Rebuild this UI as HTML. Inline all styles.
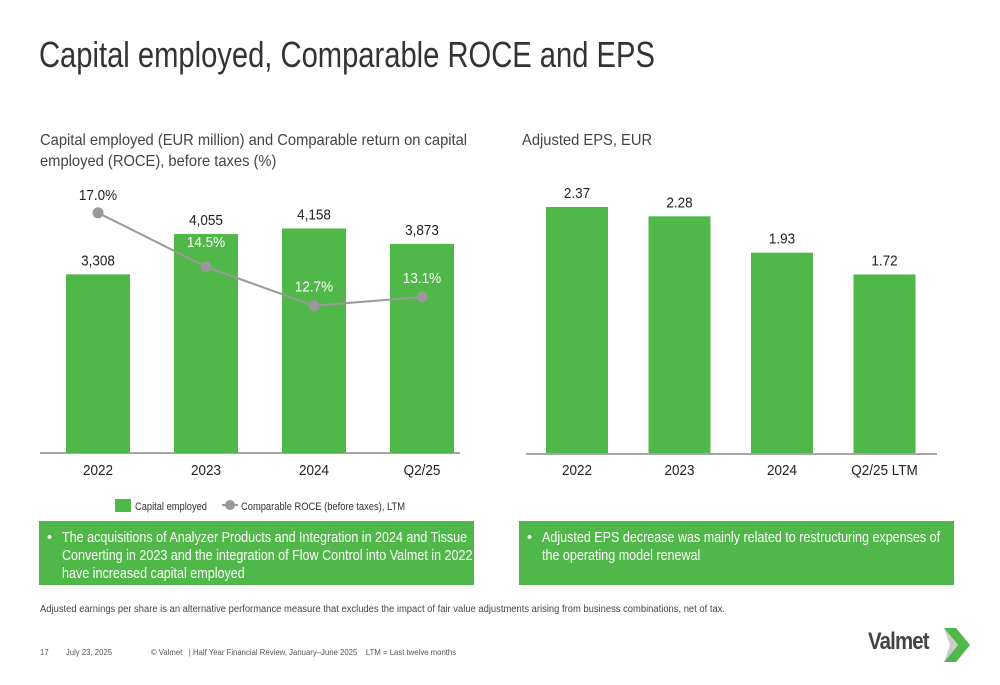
<!DOCTYPE html>
<html><head><meta charset="utf-8"><style>
body{margin:0;width:1000px;height:685px;background:#fff;font-family:"Liberation Sans",sans-serif;position:relative;overflow:hidden;color:#262626}
.a{position:absolute;white-space:nowrap}
.sx{transform-origin:left top}
.box{position:absolute;background:#50b848;color:#fff;font-size:14.5px;line-height:18px;box-sizing:border-box;overflow:hidden}
.box .b{position:absolute;left:8px;top:8px}
.box .t{position:absolute;left:23px;top:8px;transform:scaleX(0.865);transform-origin:left top;white-space:nowrap}
</style></head><body>
<div class="a sx" style="left:39px;top:34px;font-size:36px;color:#333;transform:scaleX(0.81)">Capital employed, Comparable ROCE and EPS</div>
<div class="a sx" style="left:40px;top:130px;font-size:16px;line-height:21px;color:#444;transform:scaleX(0.92)">Capital employed (EUR million) and Comparable return on capital<br>employed (ROCE), before taxes (%)</div>
<div class="a sx" style="left:522px;top:132px;font-size:16px;color:#444;transform:scaleX(0.92)">Adjusted EPS, EUR</div>
<svg class="a" style="left:0;top:0" width="1000" height="520" font-family="Liberation Sans, sans-serif">
<g id="left"></g><g id="right"></g>
<g>
<rect x="115" y="499" width="16" height="13" fill="#50b848"/>
<text x="135" y="510" font-size="11" fill="#333" textLength="72" lengthAdjust="spacingAndGlyphs">Capital employed</text>
<line x1="222" y1="505" x2="238" y2="505" stroke="#999" stroke-width="2"/><circle cx="230" cy="505" r="5" fill="#999"/>
<text x="241" y="510" font-size="11" fill="#333" textLength="164" lengthAdjust="spacingAndGlyphs">Comparable ROCE (before taxes), LTM</text>
</g>
</svg>
<div class="box" style="left:39px;top:521px;width:435px;height:64px"><span class="b">•</span><span class="t">The acquisitions of Analyzer Products and Integration in 2024 and Tissue<br>Converting in 2023 and the integration of Flow Control into Valmet in 2022<br>have increased capital employed</span></div>
<div class="box" style="left:519px;top:521px;width:435px;height:64px"><span class="b">•</span><span class="t">Adjusted EPS decrease was mainly related to restructuring expenses of<br>the operating model renewal</span></div>
<div class="a sx" style="left:40px;top:604px;font-size:10px;color:#444;transform:scaleX(0.94)">Adjusted earnings per share is an alternative performance measure that excludes the impact of fair value adjustments arising from business combinations, net of tax.</div>
<div class="a sx" style="left:40px;top:648px;font-size:8px;color:#555;white-space:pre;transform:scaleX(0.97)">17        July 23, 2025                  © Valmet   | Half Year Financial Review, January–June 2025    LTM = Last twelve months</div>
<div class="a sx" style="left:868px;top:628px;font-size:24px;font-weight:bold;color:#444;letter-spacing:-1px;transform:scaleX(0.85)">Valmet</div>
<svg class="a" style="left:942px;top:628px" width="30" height="34"><polygon points="2,0 14,0 28,17 14,34 2,34 16,17" fill="#50b848"/><polygon points="2,0 16,17 2,34 8,17" fill="#ccc"/></svg>
<script>
const cats=["2022","2023","2024","Q2/25"];
const capEmp=[3308,4055,4158,3873];
const capLbl=["3,308","4,055","4,158","3,873"];
const roce=[17.0,14.5,12.7,13.1];
const roceLbl=["17.0%","14.5%","12.7%","13.1%"];
const epsCats=["2022","2023","2024","Q2/25 LTM"];
const eps=[2.37,2.28,1.93,1.72];
const epsLbl=["2.37","2.28","1.93","1.72"];
const NS="http://www.w3.org/2000/svg";
function mk(p,t,at,txt){const e=document.createElementNS(NS,t);for(const k in at)e.setAttribute(k,at[k]);if(txt!=null)e.textContent=txt;p.appendChild(e);return e;}
function tx(p,x,y,s,fill){const e=mk(p,'text',{x:x,y:y,'font-size':15,'text-anchor':'middle',fill:fill,transform:'translate('+x+' 0) scale(0.9 1) translate('+(-x)+' 0)'},s);return e;}
const L=document.getElementById('left');
const base=453;
const xL=i=>98+i*108;
const yCap=v=>base-v*0.054;
const yR=v=>580-v*21.6;
mk(L,'line',{x1:40,y1:base,x2:460,y2:base,stroke:'#888','stroke-width':1.5});
cats.forEach((c,i)=>{
 const r=mk(L,'rect',{x:xL(i)-32,y:yCap(capEmp[i]),width:64,height:base-yCap(capEmp[i]),fill:'#50b848'});
 
 
 tx(L,xL(i),yCap(capEmp[i])-9,capLbl[i],'#222');
 tx(L,xL(i),475,c,'#222');
});
mk(L,'polyline',{points:roce.map((v,i)=>xL(i)+','+yR(v)).join(' '),fill:'none',stroke:'#999','stroke-width':2});
roce.forEach((v,i)=>{
 const p=mk(L,'circle',{cx:xL(i),cy:yR(v),r:5.5,fill:'#999'});
 
 
 tx(L,xL(i),yR(v)-(i==0?13:(i==1?20:14)),roceLbl[i],i>0?'#fff':'#222');
});
const R=document.getElementById('right');
const xR=i=>577+i*102.5;
const yE=v=>base-v*103.8;
mk(R,'line',{x1:526,y1:454,x2:937,y2:454,stroke:'#888','stroke-width':1.5});
epsCats.forEach((c,i)=>{
 const r=mk(R,'rect',{x:xR(i)-31,y:yE(eps[i]),width:62,height:base-yE(eps[i]),fill:'#50b848'});
 
 
 tx(R,xR(i),yE(eps[i])-9,epsLbl[i],'#222');
 tx(R,xR(i),475,c,'#222');
});
</script>
</body></html>
